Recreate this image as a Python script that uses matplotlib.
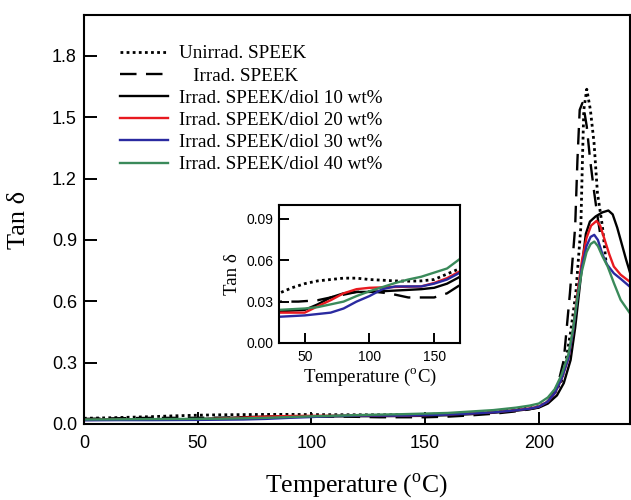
import matplotlib

matplotlib.use("Agg")
import matplotlib.pyplot as plt

plt.rcParams["font.family"] = ["Liberation Sans", "DejaVu Sans"]
plt.rcParams["mathtext.fontset"] = "custom"
plt.rcParams["mathtext.rm"] = "Liberation Serif"
SERIF = ["Liberation Serif", "DejaVu Serif"]

LABELS = [
    "Unirrad. SPEEK",
    "   Irrad. SPEEK",
    "Irrad. SPEEK/diol 10 wt%",
    "Irrad. SPEEK/diol 20 wt%",
    "Irrad. SPEEK/diol 30 wt%",
    "Irrad. SPEEK/diol 40 wt%",
]
COLORS = ["black", "black", "black", "#e8191f", "#2a2aa0", "#3a8a5a"]
STYLES = [(0, (1, 1.2)), (0, (7, 4)), "-", "-", "-", "-"]

# temperature (deg C) and tan delta
unirrad_t = [0, 10, 20, 30, 40, 50, 60, 70, 80, 90, 100, 110, 120, 130, 140,
             150, 160, 170, 180, 190, 196, 200, 204, 207, 210, 212, 214,
             216.3, 218.5, 219.2, 219.8, 221.1, 222.7, 224.3, 225.8, 228, 229.5]
unirrad_v = [0.028, 0.030, 0.033, 0.036, 0.040, 0.043, 0.045, 0.046, 0.047,
             0.047, 0.046, 0.0455, 0.045, 0.0448, 0.045, 0.046, 0.050, 0.054,
             0.060, 0.070, 0.078, 0.085, 0.11, 0.15, 0.21, 0.313, 0.45, 0.64,
             0.964, 1.29, 1.536, 1.637, 1.536, 1.375, 1.13, 0.965, 0.80]

irrad_t = [0, 15, 30, 45, 60, 75, 90, 100, 115, 130, 150, 160, 170, 180, 190,
           196, 200, 204, 207, 209, 211, 213.7, 216, 217, 218, 219.2, 220,
           221.1, 222.6, 224.4, 225.9, 227]
irrad_v = [0.025, 0.028, 0.030, 0.030, 0.031, 0.034, 0.037, 0.0375, 0.036,
           0.033, 0.033, 0.036, 0.042, 0.050, 0.062, 0.072, 0.082, 0.11, 0.16,
           0.22, 0.313, 0.64, 0.964, 1.29, 1.536, 1.57, 1.53, 1.455, 1.29,
           1.13, 1.01, 0.93]

diol10_t = [0, 15, 30, 50, 60, 70, 80, 90, 100, 120, 140, 150, 160, 170, 180,
            190, 196, 200, 204, 208, 211, 214, 216, 217.7, 219.5, 220.7, 222.5,
            225, 228, 230.6, 232.5, 234.5, 236.5, 238.5, 240]
diol10_v = [0.022, 0.022, 0.023, 0.024, 0.028, 0.033, 0.036, 0.037, 0.037,
            0.038, 0.039, 0.040, 0.043, 0.048, 0.055, 0.065, 0.073, 0.080,
            0.10, 0.14, 0.20, 0.313, 0.47, 0.64, 0.82, 0.93, 0.99, 1.015,
            1.035, 1.044, 1.025, 0.96, 0.88, 0.80, 0.745]

diol20_t = [0, 15, 30, 50, 60, 70, 80, 90, 100, 120, 140, 150, 160, 170, 180,
            190, 196, 200, 204, 207, 210, 213, 215, 217, 219, 221, 223, 225.4,
            227, 229, 231, 233, 236, 240]
diol20_v = [0.020, 0.021, 0.022, 0.022, 0.0266, 0.031, 0.036, 0.039, 0.040,
            0.0406, 0.041, 0.0435, 0.047, 0.052, 0.058, 0.068, 0.076, 0.085,
            0.11, 0.15, 0.22, 0.32, 0.45, 0.64, 0.80, 0.91, 0.97, 0.993, 0.97,
            0.90, 0.83, 0.77, 0.73, 0.696]

diol30_t = [0, 15, 30, 50, 70, 80, 90, 100, 110, 120, 140, 150, 160, 170, 180,
            190, 196, 200, 204, 207, 210, 213, 215, 217, 219, 221, 222.8, 224.4,
            226, 228, 230, 233, 236, 240]
diol30_v = [0.018, 0.019, 0.019, 0.020, 0.022, 0.025, 0.030, 0.034, 0.039,
            0.041, 0.041, 0.043, 0.046, 0.051, 0.057, 0.067, 0.075, 0.084,
            0.11, 0.15, 0.22, 0.32, 0.45, 0.62, 0.77, 0.87, 0.915, 0.925,
            0.90, 0.83, 0.78, 0.737, 0.71, 0.672]

diol40_t = [0, 15, 30, 50, 60, 70, 80, 90, 100, 110, 120, 130, 140, 150, 160,
            170, 180, 190, 196, 200, 204, 207, 210, 213, 215, 217, 219, 221,
            222.8, 224.4, 226, 228, 230.3, 233, 236, 240]
diol40_v = [0.022, 0.023, 0.024, 0.025, 0.026, 0.028, 0.030, 0.034, 0.0375,
            0.0405, 0.0435, 0.046, 0.048, 0.051, 0.054, 0.061, 0.068, 0.080,
            0.090, 0.10, 0.13, 0.17, 0.24, 0.34, 0.46, 0.62, 0.75, 0.84, 0.88,
            0.892, 0.87, 0.82, 0.77, 0.69, 0.607, 0.543]

SERIES = [
    (unirrad_t, unirrad_v),
    (irrad_t, irrad_v),
    (diol10_t, diol10_v),
    (diol20_t, diol20_v),
    (diol30_t, diol30_v),
    (diol40_t, diol40_v),
]

MAIN_XTICKS = [0, 50, 100, 150, 200]
MAIN_YTICKS = [0.0, 0.3, 0.6, 0.9, 1.2, 1.5, 1.8]
INSET_XTICKS = [50, 100, 150]
INSET_YTICKS = [0.00, 0.03, 0.06, 0.09]


def style_axes(ax, size, length, pad_x, pad_y):
    for spine in ax.spines.values():
        spine.set_linewidth(1.5)
    ax.tick_params(direction="in", length=length, width=1.4, labelsize=size,
                   top=False, right=False)
    ax.tick_params(axis="x", pad=pad_x)
    ax.tick_params(axis="y", pad=pad_y)


fig = plt.figure(figsize=(6.31, 5.0), dpi=100)
ax = fig.add_axes([0.133, 0.152, 0.865, 0.818])
for (t, v), label, color, ls in zip(SERIES, LABELS, COLORS, STYLES):
    lw = 2.0 if isinstance(ls, tuple) and ls[1][0] == 1 else 1.7
    ax.plot(t, v, color=color, linestyle=ls, linewidth=lw, label=label)
ax.set_xlim(0, 240)
ax.set_ylim(0, 2.0)
ax.set_xticks(MAIN_XTICKS)
ax.set_yticks(MAIN_YTICKS)
ax.set_yticklabels([f"{y:.1f}" for y in MAIN_YTICKS])
style_axes(ax, 13, 9, 8, 5)
ax.set_xlabel(r"Temperature ($^{\rm o}$C)", family=SERIF, fontsize=18.5,
              labelpad=14)
ax.set_ylabel("Tan δ", family=SERIF, fontsize=19, labelpad=16)
ax.legend(loc="upper left", bbox_to_anchor=(0.045, 0.955), frameon=False,
          prop={"family": SERIF, "size": 13.8}, handlelength=2.5,
          handletextpad=0.6, labelspacing=0.25, borderaxespad=0.2)

inset = fig.add_axes([0.442, 0.314, 0.287, 0.276])
for (t, v), color, ls in zip(SERIES, COLORS, STYLES):
    lw = 2.0 if isinstance(ls, tuple) and ls[1][0] == 1 else 1.7
    inset.plot(t, v, color=color, linestyle=ls, linewidth=lw)
inset.set_xlim(30, 170)
inset.set_ylim(0, 0.1)
inset.set_xticks(INSET_XTICKS)
inset.set_yticks(INSET_YTICKS)
inset.set_yticklabels([f"{y:.2f}" for y in INSET_YTICKS])
style_axes(inset, 10, 7, 5, 4)
inset.set_xlabel(r"Temperature ($^{\rm o}$C)", family=SERIF, fontsize=13.5,
                 labelpad=2)
inset.set_ylabel("Tan δ", family=SERIF, fontsize=13.5, labelpad=4)

fig.savefig("out.png", dpi=100)
